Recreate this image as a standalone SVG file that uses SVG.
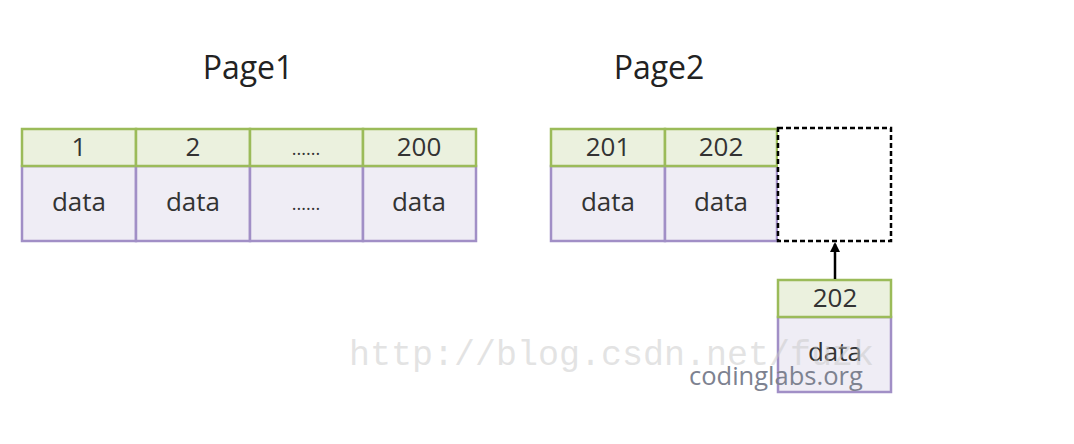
<svg xmlns="http://www.w3.org/2000/svg" width="1074" height="444" viewBox="0 0 1074 444">
<defs>
<style>
.hd{fill:#ebf1de;stroke:#9bbb59;stroke-width:2.5}
.dt{fill:#efedf5;stroke:#a18fc6;stroke-width:2.5}
.t{font-family:"Open Sans","Noto Sans",sans-serif;font-size:26px;fill:#333;text-anchor:middle}
.title{font-family:"Open Sans","Noto Sans",sans-serif;font-size:32px;fill:#222;text-anchor:middle}
</style>
<marker id="ah" markerWidth="10" markerHeight="10" refX="8" refY="5" orient="auto" markerUnits="userSpaceOnUse" viewBox="0 0 10 10"><path d="M0,0 L10,5 L0,10 z" fill="#000"/></marker>
</defs>
<rect width="1074" height="444" fill="#fff"/>
<text class="title" x="248" y="79">Page1</text>
<text class="title" x="659" y="79">Page2</text>
<g id="p1c1"><rect class="dt" x="22" y="166" width="114" height="75"/><rect class="hd" x="22" y="129" width="114" height="37"/><text class="t" x="79" y="156">1</text><text class="t" x="79" y="211">data</text></g>
<g id="p1c2"><rect class="dt" x="136" y="166" width="114" height="75"/><rect class="hd" x="136" y="129" width="114" height="37"/><text class="t" x="193" y="156">2</text><text class="t" x="193" y="211">data</text></g>
<g id="p1c3"><rect class="dt" x="250" y="166" width="113" height="75"/><rect class="hd" x="250" y="129" width="113" height="37"/><text class="t" x="306" y="155" style="font-size:18px">......</text><text class="t" x="306" y="210" style="font-size:18px">......</text></g>
<g id="p1c4"><rect class="dt" x="363" y="166" width="113" height="75"/><rect class="hd" x="363" y="129" width="113" height="37"/><text class="t" x="419" y="156">200</text><text class="t" x="419" y="211">data</text></g>
<g id="p2c1"><rect class="dt" x="551" y="166" width="114" height="75"/><rect class="hd" x="551" y="129" width="114" height="37"/><text class="t" x="608" y="156">201</text><text class="t" x="608" y="211">data</text></g>
<g id="p2c2"><rect class="dt" x="665" y="166" width="112" height="75"/><rect class="hd" x="665" y="129" width="112" height="37"/><text class="t" x="721" y="156">202</text><text class="t" x="721" y="211">data</text></g>
<g id="slot"><rect x="778" y="128" width="113" height="113" fill="#fff" stroke="#000" stroke-width="2.5" stroke-dasharray="5,3"/></g>
<g id="newrec"><rect class="dt" x="778" y="317" width="113" height="75"/><rect class="hd" x="778" y="280" width="113" height="37"/><text class="t" x="835" y="307">202</text><text class="t" x="835" y="361">data</text></g>
<g id="connectors"><line x1="835" y1="279" x2="835" y2="244" stroke="#000" stroke-width="2.5" marker-end="url(#ah)"/></g>
<text x="349" y="365" font-family="'Liberation Mono',monospace" font-size="35" fill="#c8c8c8" fill-opacity="0.5">http://blog.csdn.net/fuzk</text>
<text x="689" y="385" font-family="'Open Sans','Noto Sans',sans-serif" font-size="25.5" fill="#7d8290">codinglabs.org</text>
</svg>
